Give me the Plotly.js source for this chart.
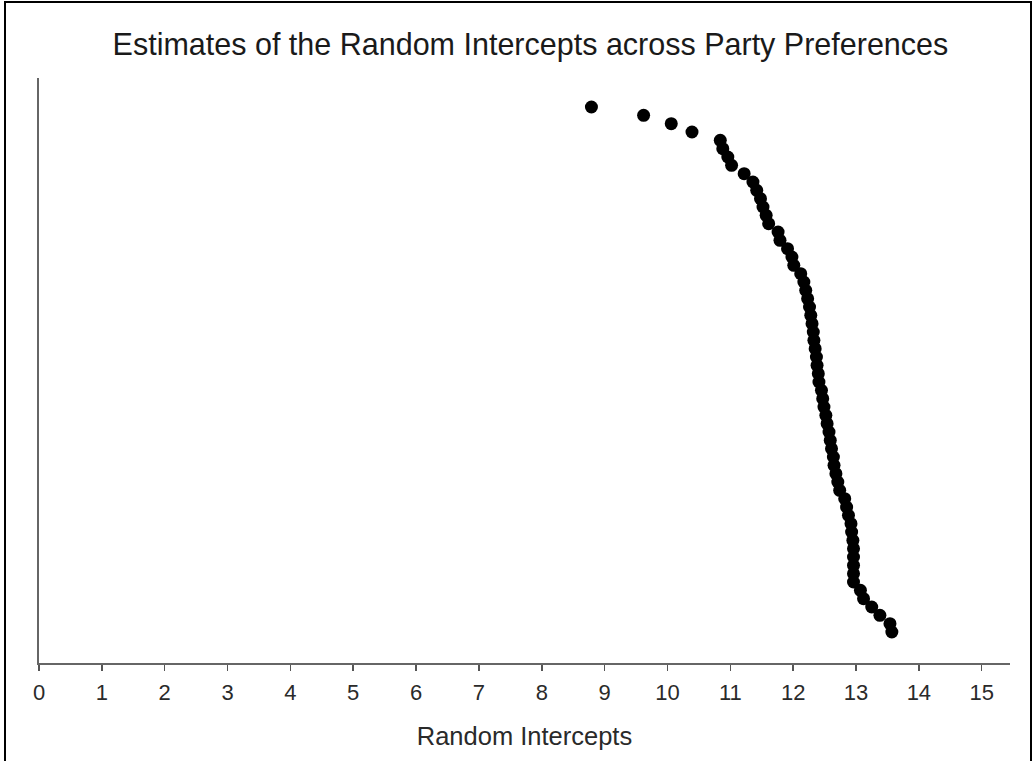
<!DOCTYPE html>
<html>
<head>
<meta charset="utf-8">
<script src="https://cdn.plot.ly/plotly-3.0.1.min.js"></script>
<style>
  html, body { margin: 0; padding: 0; background: #fff; }
  #wrap { position: relative; width: 1036px; height: 761px; overflow: hidden; }
  #chart { width: 1036px; height: 761px; }
  #frame { position: absolute; left: 4px; top: 1px; width: 1024px; height: 800px;
           border: 2px solid #000; pointer-events: none; }
</style>
</head>
<body>
<div id="wrap">
  <div id="chart"></div>
  <div id="frame"></div>
</div>
<script>
// Random intercept estimates, ordered from top of the plot to the bottom
const intercepts = [
  8.79, 9.62, 10.06, 10.39, 10.84, 10.88, 10.96, 11.02, 11.22, 11.36,
  11.42, 11.48, 11.52, 11.57, 11.61, 11.76, 11.79, 11.91, 11.98, 12.01,
  12.12, 12.17, 12.20, 12.23, 12.26, 12.28, 12.30, 12.32, 12.33, 12.35,
  12.37, 12.38, 12.40, 12.41, 12.45, 12.47, 12.49, 12.52, 12.54, 12.57,
  12.59, 12.61, 12.64, 12.65, 12.68, 12.71, 12.74, 12.82, 12.85, 12.88,
  12.92, 12.93, 12.95, 12.96, 12.96, 12.96, 12.96, 12.96, 13.07, 13.12,
  13.25, 13.38, 13.54, 13.57
];
// Rank of each party preference (vertical position)
const ranks = [
  64, 63, 62, 61, 60, 59, 58, 57, 56, 55,
  54, 53, 52, 51, 50, 49, 48, 47, 46, 45,
  44, 43, 42, 41, 40, 39, 38, 37, 36, 35,
  34, 33, 32, 31, 30, 29, 28, 27, 26, 25,
  24, 23, 22, 21, 20, 19, 18, 17, 16, 15,
  14, 13, 12, 11, 10, 9, 8, 7, 6, 5,
  4, 3, 2, 1
];
const xTicks = [0,1,2,3,4,5,6,7,8,9,10,11,12,13,14,15];

const trace = {
  x: intercepts,
  y: ranks,
  type: 'scatter',
  mode: 'markers',
  marker: { color: '#000', size: 13 },
  hoverinfo: 'x'
};

const layout = {
  width: 1036,
  height: 761,
  margin: { l: 39, r: 26, t: 78, b: 98 },
  paper_bgcolor: '#fff',
  plot_bgcolor: '#fff',
  showlegend: false,
  font: { family: 'Liberation Sans, Arial, sans-serif', color: '#333' },
  title: {
    text: 'Estimates of the Random Intercepts across Party Preferences',
    font: { size: 30.5, color: '#1a1a1a', family: 'Liberation Sans, Arial, sans-serif' },
    x: 0.512, xanchor: 'center',
    y: 0.942, yanchor: 'middle'
  },
  xaxis: {
    range: [0, 15.45],
    tickvals: xTicks,
    ticktext: xTicks.map(String),
    ticks: 'outside',
    ticklen: 6,
    tickwidth: 1.5,
    tickcolor: '#555',
    ticklabelstandoff: 3,
    tickfont: { size: 22, color: '#2a2a2a' },
    showline: true,
    linecolor: '#666',
    linewidth: 2,
    showgrid: false,
    zeroline: false,
    title: { text: 'Random Intercepts', font: { size: 25.5, color: '#2a2a2a' }, standoff: 23 }
  },
  yaxis: {
    range: [-2.72, 67.48],
    showticklabels: false,
    ticks: '',
    showline: true,
    linecolor: '#666',
    linewidth: 2,
    showgrid: false,
    zeroline: false
  }
};

Plotly.newPlot('chart', [trace], layout, { displayModeBar: false, staticPlot: true });
</script>
</body>
</html>
